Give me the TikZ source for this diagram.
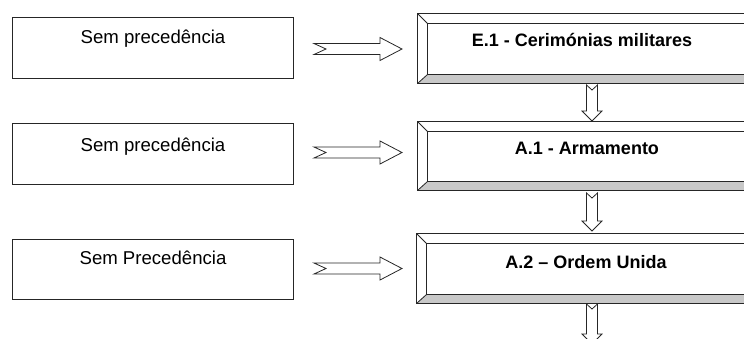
\documentclass[tikz,border=0pt]{standalone}
\usepackage{fontspec}
\setmainfont{Liberation Sans}
\usetikzlibrary{calc}
\definecolor{bevelgray}{HTML}{C8C8C8}
\definecolor{edge}{HTML}{262626}
\begin{document}
\begin{tikzpicture}[x=1pt,y=-1pt,
  lbox/.style={draw=edge, line width=1pt, fill=white, anchor=north west,
    minimum width=281pt, inner ysep=0pt,
    font=\fontsize{18.6}{22}\selectfont},
  bevelbox/.style={draw=edge, line width=1pt, fill=white, anchor=north west,
    minimum width=339pt, inner ysep=0pt,
    font=\bfseries\fontsize{18}{22}\selectfont,
    path picture={
      \coordinate (bbnw) at (path picture bounding box.north west);
      \coordinate (bbne) at (path picture bounding box.north east);
      \coordinate (bbsw) at (path picture bounding box.south west);
      \coordinate (bbse) at (path picture bounding box.south east);
      \fill[bevelgray] (bbsw) -- (bbse) -- ([shift={(-10pt,9pt)}]bbse) -- ([shift={(10pt,9pt)}]bbsw) -- cycle;
      \draw[edge, line width=1pt] ([shift={(10pt,-10pt)}]bbnw) rectangle ([shift={(-10pt,9pt)}]bbse);
      \draw[edge, line width=0.8pt] (bbnw) -- ++(10pt,-10pt);
      \draw[edge, line width=0.8pt] (bbsw) -- ++(10pt,9pt);
      \draw[edge, line width=0.8pt] (bbne) -- ++(-10pt,-10pt);
      \draw[edge, line width=0.8pt] (bbse) -- ++(-10pt,9pt);
    }},
  harrow/.style={draw=edge, line width=0.8pt, fill=white, to path={
    let \p1=(\tikztostart), \p2=(\tikztotarget) in
    (\x1,\y1+5.5pt) -- (\x2-22pt,\y1+5.5pt) -- (\x2-22pt,\y1+11.5pt) -- (\x2,\y1)
    -- (\x2-22pt,\y1-11.5pt) -- (\x2-22pt,\y1-5.5pt) -- (\x1,\y1-5.5pt) -- (\x1+12pt,\y1) -- cycle}},
  varrow/.style={draw=edge, line width=0.8pt, fill=white, to path={
    let \p1=(\tikztostart), \p2=(\tikztotarget) in
    (\x1-5.5pt,\y1) -- (\x1,\y1-5pt) -- (\x1+5.5pt,\y1) -- (\x1+5.5pt,\y2+10pt)
    -- (\x1+10pt,\y2+10pt) -- (\x1,\y2) -- (\x1-10pt,\y2+10pt) -- (\x1-5.5pt,\y2+10pt) -- cycle}}
]
\useasboundingbox (0,0) rectangle (744,338);

% left boxes
\node[lbox, text height=26pt, text depth=35pt] (l1) at (12,17) {Sem precedência};
\node[lbox, text height=28pt, text depth=33pt] (l2) at (12,123) {Sem precedência};
\node[lbox, text height=25pt, text depth=35pt] (l3) at (12,239) {Sem Precedência};

% right bevelled boxes
\node[bevelbox, text height=33pt, text depth=37pt] (r1) at (417,13) {\hspace*{-10pt}E.1 - Cerimónias militares};
\node[bevelbox, text height=33pt, text depth=36pt] (r2) at (417,121) {A.1 - Armamento};
\node[bevelbox, text height=35pt, text depth=35pt] (r3) at (416,233) {A.2 – Ordem Unida};

% horizontal block arrows
\draw[harrow] ([xshift=20pt,yshift=-1pt]l1.east) to ([xshift=-15pt]r1.west);
\draw[harrow] ([xshift=20pt,yshift=1.5pt]l2.east) to ([xshift=-15pt]r2.west);
\draw[harrow] ([xshift=20pt,yshift=1pt]l3.east) to ([xshift=-14pt]r3.west);

% vertical block arrows
\coordinate (end) at ([xshift=176pt,yshift=-40pt]r3.south west);
\draw[varrow] ([xshift=175pt,yshift=-1pt]r1.south west) to ([xshift=175pt]r2.north west);
\draw[varrow] ([xshift=175pt,yshift=-2pt]r2.south west) to ([xshift=175pt,yshift=2pt]r3.north west);
\draw[varrow] ([xshift=176pt]r3.south west) to (end);
\end{tikzpicture}
\end{document}
